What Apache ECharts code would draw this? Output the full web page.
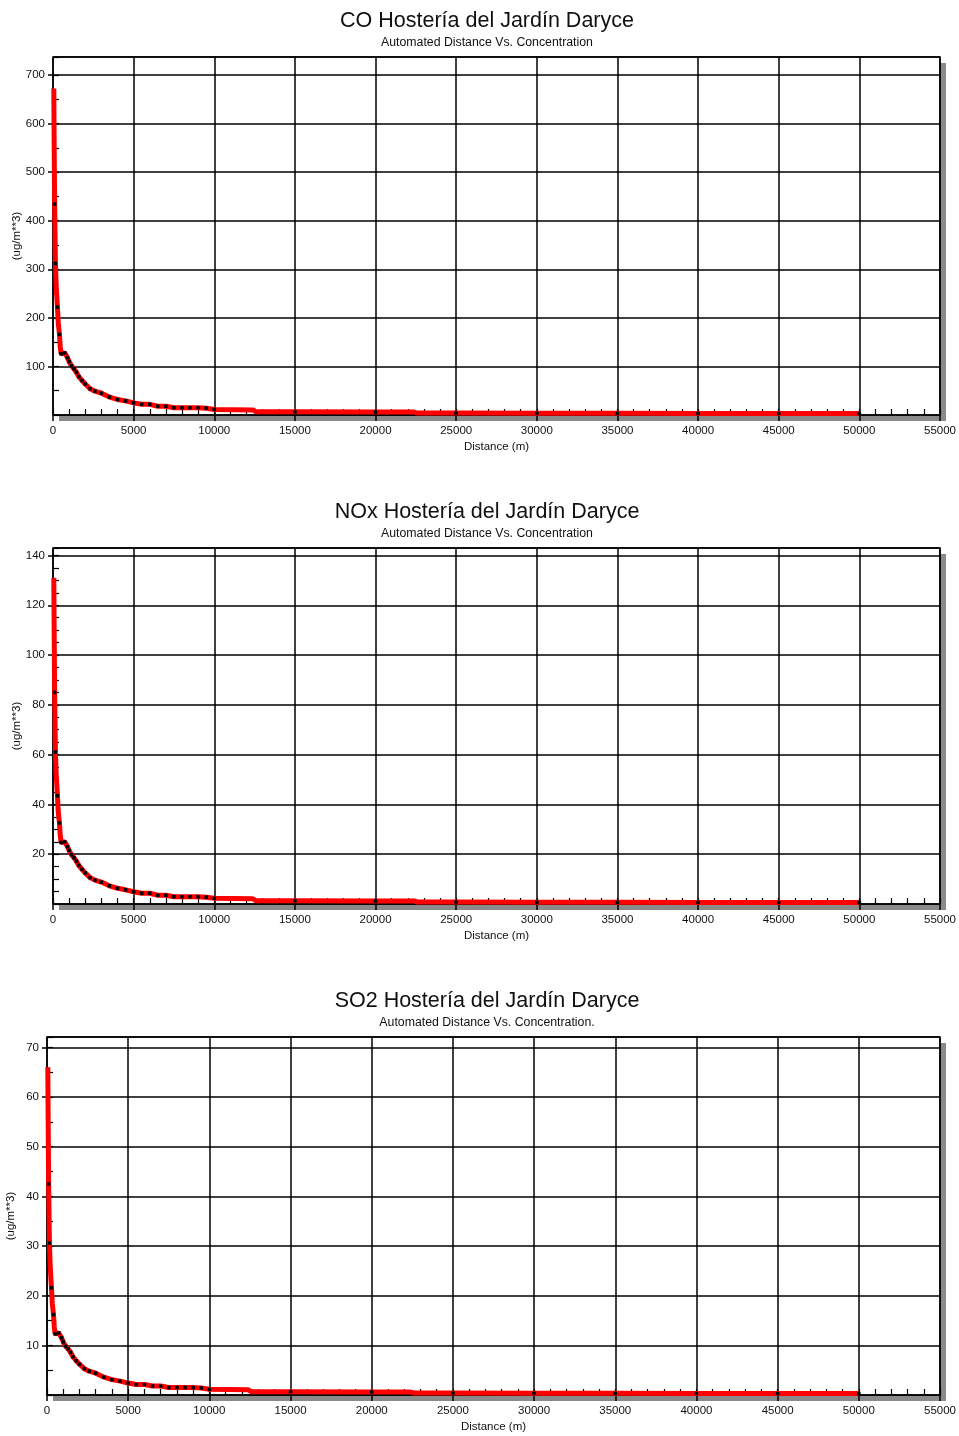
<!DOCTYPE html>
<html>
<head>
<meta charset="utf-8">
<script src="https://cdn.jsdelivr.net/npm/echarts@6/dist/echarts.min.js"></script>
<style>
html,body{margin:0;padding:0;background:#fff;}
#chart{width:959px;height:1436px;}
</style>
</head>
<body>
<div id="chart"></div>
<script>
// distancias (m) del barrido automatico
var dist = [50, 75, 100, 125, 150, 200, 275, 325, 400, 450,
	500, 600, 725, 900, 1000, 1150, 1300, 1450, 1600, 1800,
	2000, 2300, 2600, 3000, 3500, 4000, 4500, 5000, 5500, 6000,
	6500, 7000, 7500, 8000, 8500, 9000, 9500, 10000, 12400, 12600,
	15000, 20000, 22400, 22600, 25000, 30000, 35000, 40000, 45000, 50000];
// puntos marcados en negro
var dotDist = [100, 150, 275, 400, 500, 725, 900, 1000, 1150, 1300, 1450, 1600, 1800,
	2000, 2300, 2600, 3000, 3500, 4000, 4500, 5000, 5500, 6000, 6500, 7000, 7500,
	8000, 8500, 9000, 9500, 10000, 15000, 20000, 25000, 30000, 35000, 40000, 45000, 50000];
var coVal = [672, 548, 434, 372, 312, 265, 222, 190, 166, 140,
	126, 124, 128, 118, 110, 101, 95, 88, 79, 71,
	64, 54, 49, 45, 37, 32, 29, 25, 22, 22,
	18, 18, 15, 15, 15, 15, 14, 11.5, 10.5, 6.5,
	6.5, 6, 6, 4, 4, 3.8, 3.5, 3.3, 3.1, 3];
var noxVal = [131, 108, 85, 73, 61, 52, 43.5, 37, 32.5, 27.5,
	24.7, 24.3, 25, 23, 21.5, 19.8, 18.6, 17.2, 15.5, 13.9,
	12.5, 10.6, 9.6, 8.8, 7.3, 6.3, 5.7, 4.9, 4.3, 4.3,
	3.5, 3.5, 2.9, 2.9, 2.9, 2.9, 2.7, 2.3, 2.1, 1.3,
	1.3, 1.2, 1.2, 0.8, 0.8, 0.75, 0.7, 0.65, 0.6, 0.6];
var so2Val = [66, 53.6, 42.5, 36.5, 30.6, 25.8, 21.6, 18.5, 16.2, 13.7,
	12.3, 12.1, 12.5, 11.5, 10.7, 9.8, 9.3, 8.6, 7.7, 6.9,
	6.2, 5.3, 4.8, 4.4, 3.6, 3.1, 2.8, 2.4, 2.1, 2.1,
	1.8, 1.8, 1.5, 1.5, 1.5, 1.5, 1.4, 1.15, 1.05, 0.65,
	0.65, 0.6, 0.6, 0.4, 0.4, 0.37, 0.34, 0.32, 0.3, 0.3];

var titles = ['CO Hostería del Jardín Daryce', 'NOx Hostería del Jardín Daryce', 'SO2 Hostería del Jardín Daryce'];
var subTitles = ['Automated Distance Vs. Concentration', 'Automated Distance Vs. Concentration', 'Automated Distance Vs. Concentration.'];
var values = [coVal, noxVal, so2Val];
var yMax = [737, 143, 72.1];
var yStep = [100, 20, 10];
var yMinor = [50, 5, 5];
var xMax = 55000, xStep = 5000, xMinor = 1000;

var boxes = [
	{left: 53, top: 57, height: 358},
	{left: 53, top: 548, height: 356},
	{left: 47, top: 1037, height: 358}
];

var FONT = '"Liberation Sans", Arial, sans-serif';
var plain = function (v) { return String(v); };
var chart = echarts.init(document.getElementById('chart'));
var option = {
	animation: false,
	backgroundColor: '#fff',
	graphic: [],
	grid: [], xAxis: [], yAxis: [], series: []
};

for (var k = 0; k < 3; k++) {
	var b = boxes[k];
	var w = 940 - b.left;
	option.graphic.push({
		type: 'text', x: 487, y: b.top - 36,
		style: {text: titles[k], fill: '#111', font: '21.5px ' + FONT, textAlign: 'center', textVerticalAlign: 'middle'}
	});
	option.graphic.push({
		type: 'text', x: 487, y: b.top - 14,
		style: {text: subTitles[k], fill: '#111', font: '12.3px ' + FONT, textAlign: 'center', textVerticalAlign: 'middle'}
	});
	// fondo con sombra gris
	option.grid.push({
		left: b.left, top: b.top, width: w, height: b.height, outerBoundsMode: 'none',
		show: true, backgroundColor: '#fff', borderWidth: 0,
		shadowColor: '#8a8a8a', shadowBlur: 0, shadowOffsetX: 6, shadowOffsetY: 6
	});
	// mismo cuadro: borde negro y marcas menores
	option.grid.push({
		left: b.left, top: b.top, width: w, height: b.height, outerBoundsMode: 'none',
		show: true, backgroundColor: 'transparent', borderColor: '#000', borderWidth: 1.5
	});

	option.xAxis.push({
		gridIndex: 2 * k, type: 'value', min: 0, max: xMax, interval: xStep,
		axisLine: {show: false},
		axisTick: {show: true, inside: false, length: 6, lineStyle: {color: '#000', width: 1.5}},
		axisLabel: {fontSize: 11.5, fontFamily: FONT, color: '#111', margin: 10, formatter: plain},
		splitLine: {show: true, lineStyle: {color: '#000', width: 1.5}},
		name: 'Distance (m)', nameLocation: 'middle', nameGap: 26, nameMoveOverlap: false,
		nameTextStyle: {fontSize: 11.5, fontFamily: FONT, color: '#111'}
	});
	option.xAxis.push({
		gridIndex: 2 * k + 1, type: 'value', min: 0, max: xMax, interval: xMinor,
		axisLine: {show: false},
		axisTick: {show: true, inside: true, length: 6, lineStyle: {color: '#000', width: 1.2}},
		axisLabel: {show: false}, splitLine: {show: false}
	});
	option.yAxis.push({
		gridIndex: 2 * k, type: 'value', min: 0, max: yMax[k], interval: yStep[k],
		axisLine: {show: false},
		axisTick: {show: true, inside: false, length: 5, lineStyle: {color: '#000', width: 1.5}},
		axisLabel: {fontSize: 11.5, fontFamily: FONT, color: '#111', margin: 8, showMinLabel: false, showMaxLabel: false, formatter: plain},
		splitLine: {show: true, lineStyle: {color: '#000', width: 1.5}},
		name: '(ug/m**3)', nameLocation: 'middle', nameGap: 30, nameMoveOverlap: false,
		nameTextStyle: {fontSize: 11.5, fontFamily: FONT, color: '#111'}
	});
	option.yAxis.push({
		gridIndex: 2 * k + 1, type: 'value', min: 0, max: yMax[k], interval: yMinor[k],
		axisLine: {show: false},
		axisTick: {show: true, inside: true, length: 6, lineStyle: {color: '#000', width: 1.2}},
		axisLabel: {show: false}, splitLine: {show: false}
	});

	var data = [];
	for (var i = 0; i < dist.length; i++) {
		data.push([dist[i], values[k][i]]);
	}
	option.series.push({
		type: 'line', xAxisIndex: 2 * k, yAxisIndex: 2 * k,
		data: data, z: 5,
		symbol: function (v) { return dotDist.indexOf(v[0]) >= 0 ? 'rect' : 'none'; },
		symbolSize: 3.5,
		itemStyle: {color: '#000'},
		lineStyle: {color: '#ff0000', width: 5},
		emphasis: {disabled: true}
	});
}

chart.setOption(option);
</script>
</body>
</html>
